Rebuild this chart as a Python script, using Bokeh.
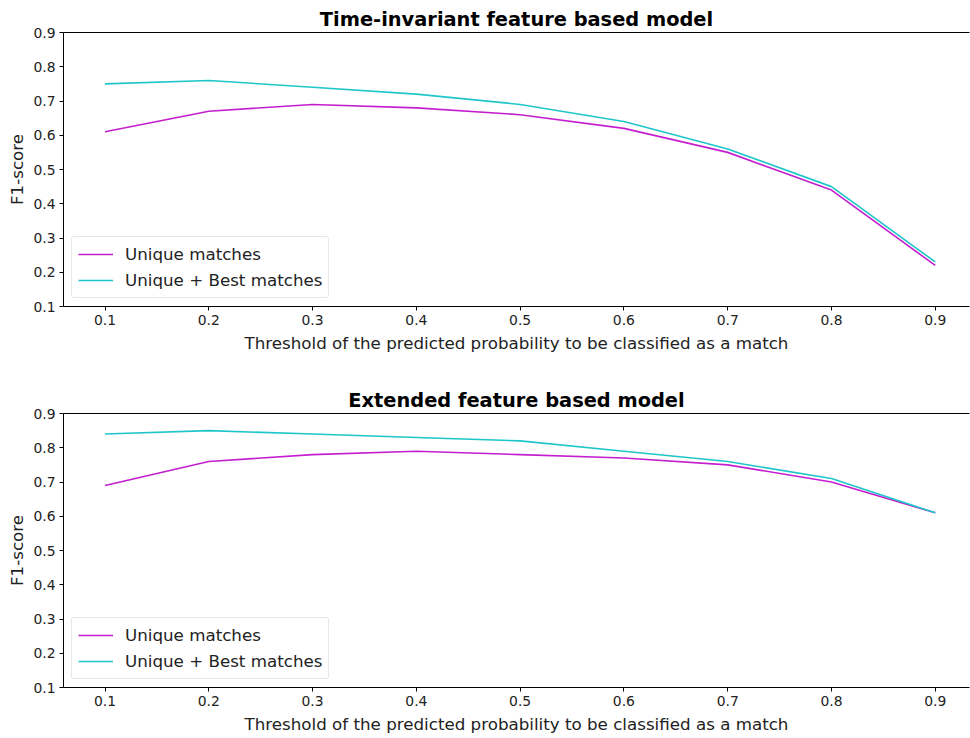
from bokeh.plotting import figure
from bokeh.layouts import column
from bokeh.models import Legend, LegendItem, LinearAxis, FixedTicker, Range1d
from bokeh.embed import file_html
from bokeh.resources import INLINE

thresholds = [0.1, 0.2, 0.3, 0.4, 0.5, 0.6, 0.7, 0.8, 0.9]
ti_unique = [0.61, 0.67, 0.69, 0.68, 0.66, 0.62, 0.55, 0.44, 0.22]
ti_best = [0.75, 0.76, 0.74, 0.72, 0.69, 0.64, 0.56, 0.45, 0.23]
ext_unique = [0.69, 0.76, 0.78, 0.79, 0.78, 0.77, 0.75, 0.70, 0.61]
ext_best = [0.84, 0.85, 0.84, 0.83, 0.82, 0.79, 0.76, 0.71, 0.61]
yticks = [0.1, 0.2, 0.3, 0.4, 0.5, 0.6, 0.7, 0.8, 0.9]
titles = ["Time-invariant feature based model", "Extended feature based model"]
series_names = ["Unique matches", "Unique + Best matches"]

MAG = "#c41fcf"
CYA = "#1fc6c9"
FONT = "DejaVu Sans"


def make_fig(title, u, b, height, bottom_border):
    p = figure(width=970, height=height, output_backend="svg", toolbar_location=None,
               x_range=Range1d(0.06, 0.933), y_range=Range1d(0.1, 0.9),
               frame_width=906, frame_height=274,
               min_border_left=63, min_border_right=1, min_border_top=32,
               min_border_bottom=bottom_border, title=title)
    p.title.text_font = FONT
    p.title.text_font_size = "19.4px"
    p.title.text_font_style = "bold"
    p.title.align = "center"
    p.title.text_color = "black"
    p.title.standoff = 4
    p.outline_line_color = None
    p.background_fill_color = "white"
    p.border_fill_color = "white"
    p.grid.visible = False

    for ax in (p.xaxis[0], p.yaxis[0]):
        ax.axis_line_color = "black"
        ax.axis_line_width = 1
        ax.major_tick_line_color = "black"
        ax.major_tick_in = 0
        ax.major_tick_out = 4
        ax.minor_tick_line_color = None
        ax.major_label_text_font = FONT
        ax.major_label_text_font_size = "13.9px"
        ax.major_label_text_color = "#222222"
        ax.axis_label_text_font = FONT
        ax.axis_label_text_font_size = "16.7px"
        ax.axis_label_text_font_style = "normal"
        ax.axis_label_text_color = "#222222"
        ax.major_label_standoff = 4
    p.xaxis.ticker = FixedTicker(ticks=thresholds)
    p.yaxis.ticker = FixedTicker(ticks=yticks)
    p.xaxis.axis_label = "Threshold of the predicted probability to be classified as a match"
    p.yaxis.axis_label = "F1-score"
    p.xaxis.axis_label_standoff = 5
    p.yaxis.axis_label_standoff = 3

    top = LinearAxis(ticker=FixedTicker(ticks=[]), major_label_text_font_size="0px",
                     major_tick_line_color=None, minor_tick_line_color=None,
                     axis_line_color="black")
    p.add_layout(top, "above")

    r1 = p.line(thresholds, u, line_color=MAG, line_width=1.6)
    r2 = p.line(thresholds, b, line_color=CYA, line_width=1.6)
    legend = Legend(items=[LegendItem(label=series_names[0], renderers=[r1]),
                           LegendItem(label=series_names[1], renderers=[r2])],
                    location="bottom_left")
    legend.label_text_font = FONT
    legend.label_text_font_size = "16.7px"
    legend.label_text_color = "#222222"
    legend.border_line_color = "#d0d0d0"
    legend.border_line_width = 1
    legend.border_radius = 3
    legend.margin = 8
    legend.padding = 6
    legend.spacing = 4
    legend.glyph_width = 35
    legend.label_standoff = 12
    legend.label_height = 22
    legend.glyph_height = 22
    p.add_layout(legend)
    return p


p1 = make_fig(titles[0], ti_unique, ti_best, 381, 75)
p2 = make_fig(titles[1], ext_unique, ext_best, 357, 51)
layout = column(p1, p2, spacing=0)
open("out.html", "w").write(file_html(layout, INLINE))
